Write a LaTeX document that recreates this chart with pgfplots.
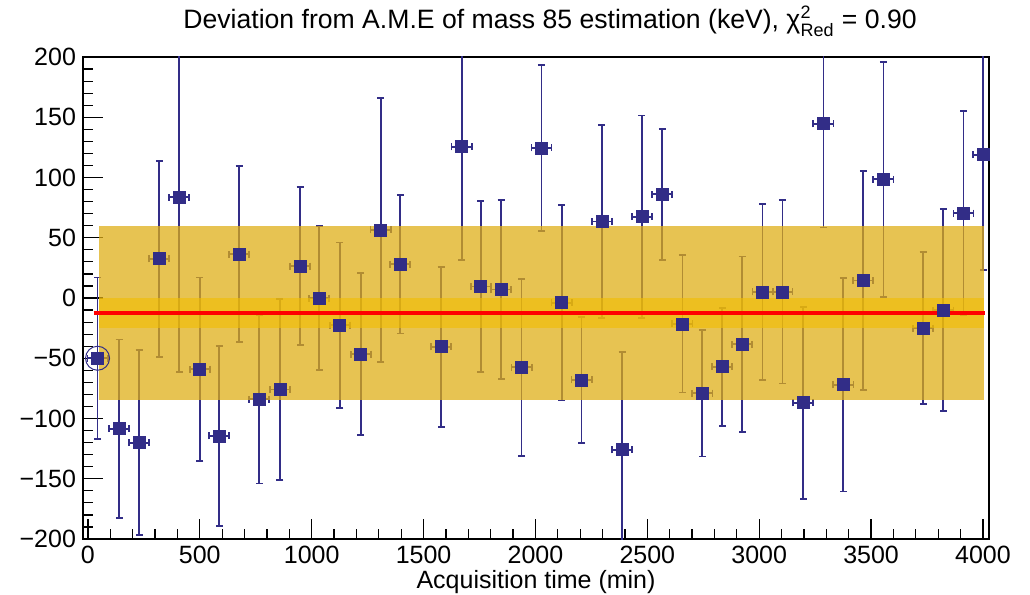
\documentclass[border=0pt]{standalone}
\usepackage{pgfplots}
\usepackage{pgfplotstable}
\usepackage{fontspec}
\setmainfont{Liberation Sans}
\usetikzlibrary{calc}
\pgfplotsset{compat=1.18}
\definecolor{ptblue}{RGB}{50,45,135}
\definecolor{bandout}{RGB}{222,174,22}
\definecolor{bandin}{RGB}{242,190,0}

% time (min), deviation (keV), x error, y error
\pgfplotstableread{
t     dev     et  ed
43    -50     45  67
139   -108.5  45  74
229   -120    45  77
319   32.5    45  81.5
408   83.5    45  145
500   -59     45  76
587   -114.5  45  75
676   36.5    45  73
766   -84     45  70
858   -76     45  75
948   26.5    45  65.5
1034  0       45  60
1126  -22.5   45  68.5
1219  -46.5   45  67.5
1308  56.5    45  109.5
1396  28      45  57.5
1578  -40.5   45  66.5
1670  125.5   45  94
1756  9.5     45  71
1847  7       45  74.5
1938  -57.5   45  73.5
2027  124.5   45  69
2117  -4      45  81
2206  -68     45  52
2297  63.5    45  80
2387  -126    45  81.5
2476  67.5    45  84
2567  86      45  54.5
2657  -21.5   45  57
2746  -79     45  52.5
2835  -57     45  49
2924  -38.5   45  73
3015  5       45  73
3104  5       45  76
3197  -87     45  79.5
3287  144.5   45  86
3376  -72     45  88.5
3465  14.5    45  91
3555  98.5    45  97.5
3733  -25     45  63
3823  -10     45  84
3913  70.5    45  85
4001  119     45  96
}\devdata

\begin{document}
\begin{tikzpicture}
\begin{axis}[
  name=ax,
  scale only axis,
  width=453pt, height=241pt,
  xmin=-22, xmax=4027, ymin=-200, ymax=200,
  xtick={0,500,...,4000},
  xticklabels={0,500,1000,1500,2000,2500,3000,3500,4000},
  ytick={-200,-150,...,200},
  yticklabels={−200,−150,−100,−50,0,50,100,150,200},
  minor x tick num=4, minor y tick num=4,
  tick align=inside,
  xtick pos=bottom, ytick pos=left,
  major tick length=10pt, minor tick length=5pt,
  every tick/.style={black, line width=0.6pt},
  axis line style={line width=1pt},
  tick label style={font=\fontsize{12.5}{14}\selectfont},
  title={Deviation from A.M.E of mass 85 estimation (keV), χ${}^{\hbox{\fontsize{9}{10}\selectfont 2}}_{\hbox{\fontsize{9}{10}\selectfont Red}}$ = 0.90},
  title style={font=\fontsize{13.3}{15}\selectfont, at={(axis description cs:0.5,1)}, anchor=base, yshift=8pt, xshift=7pt},
  xlabel={Acquisition time (min)},
  xlabel style={font=\fontsize{12.5}{14}\selectfont, at={(axis description cs:0.5,0)}, anchor=base, yshift=-24.5pt},
]
\addplot [ptblue, only marks, mark=square*, mark size=3pt,
  error bars/.cd, x dir=both, x explicit, y dir=both, y explicit,
  error mark=|,
  error bar style={line width=0.9pt, ptblue},
  error mark options={mark size=1.75pt, line width=0.9pt, ptblue}]
  table [x=t, y=dev, x error=et, y error=ed] {\devdata};
\addplot [draw=none, fill=bandout, fill opacity=0.74] coordinates {(49,-85) (4005,-85) (4005,60) (49,60)} -- cycle;
\addplot [draw=none, fill=bandin, fill opacity=0.6] coordinates {(49,-25) (4005,-25) (4005,0) (49,0)} -- cycle;
\addplot [red, line width=2pt] coordinates {(25,-12.5) (4008,-12.5)};
\addplot [ptblue, only marks, mark=o, mark size=6pt, line width=0.5pt] coordinates {(43,-50)};
\end{axis}
\pgfresetboundingbox
\path ($(ax.south west)+(-41.5pt,-27.5pt)$) rectangle ($(ax.north east)+(20.5pt,28.5pt)$);
\end{tikzpicture}
\end{document}
